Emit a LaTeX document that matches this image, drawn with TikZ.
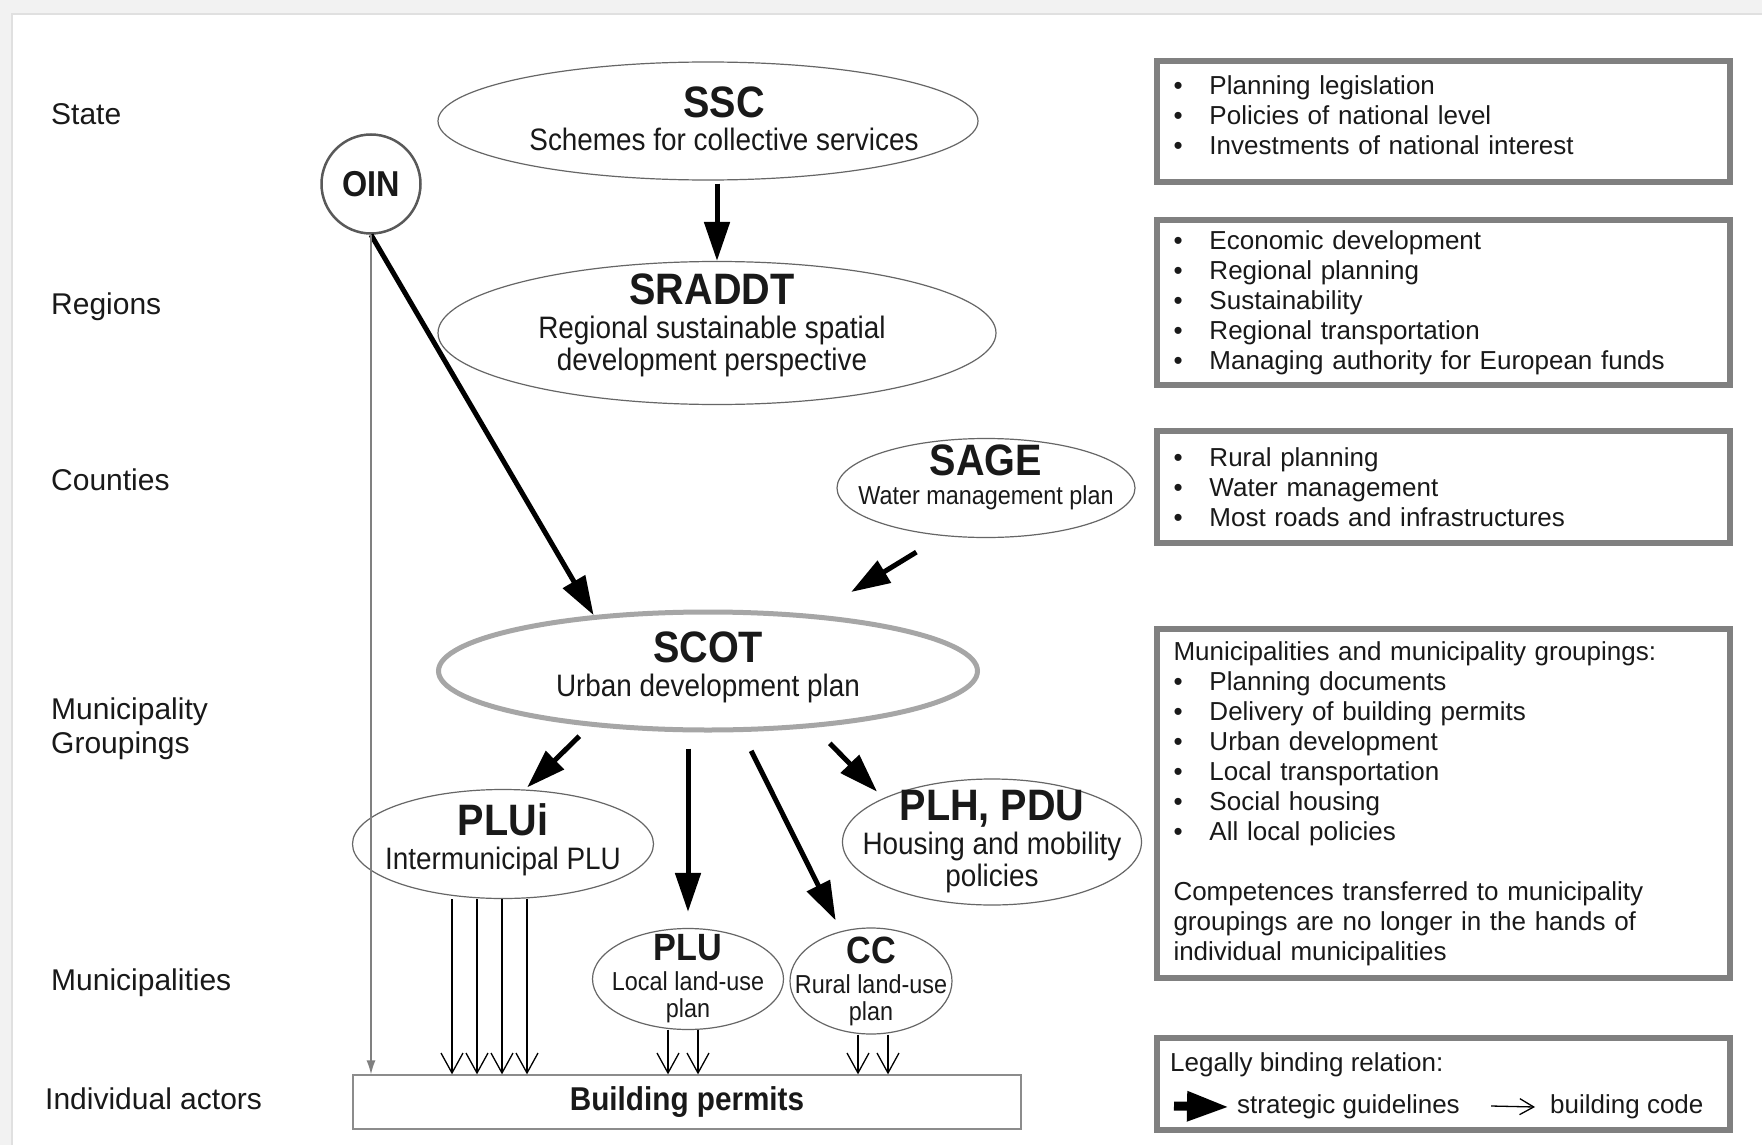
\documentclass[tikz,border=0pt]{standalone}
\usepackage{fontspec}
\setmainfont{Liberation Sans}
\newfontfamily\narrowsf[FakeStretch=0.9]{Liberation Sans}
\usetikzlibrary{shapes.geometric,arrows.meta}

\newcommand{\ptitle}[1]{{\fontsize{44}{44}\selectfont\bfseries #1}}
\newcommand{\stitle}[1]{{\fontsize{38}{38}\selectfont\bfseries #1}}
\newcommand{\bitem}{\makebox[36pt][l]{\textbullet}}

\begin{document}
\begin{tikzpicture}
[x=1pt,y=-1pt,every node/.style={text=black!90},
plan/.style={ellipse,draw=black!60,line width=1.2pt,inner sep=-200pt,align=center,font=\narrowsf\fontsize{31}{32}\selectfont},
smallplan/.style={plan,font=\narrowsf\fontsize{26}{27}\selectfont},
level/.style={anchor=west,inner sep=0pt,align=left,font=\fontsize{30}{34}\selectfont},
infobox/.style={draw=gray,line width=6pt,text width=540pt,inner xsep=16.5pt,inner ysep=0pt,align=left,font=\fontsize{26}{30}\selectfont},
boxtxt/.style={anchor=west,inner sep=0pt,font=\fontsize{26}{30}\selectfont},
strat/.style={line width=5pt,-{Triangle[length=39pt,width=25pt]}},
legstrat/.style={line width=9pt,-{Triangle[length=42pt,width=28pt]}},
code/.style={line width=1.3pt,-{Straight Barb[length=20pt,width=22pt]}},
legcode/.style={line width=1.3pt,-{Straight Barb[length=14pt,width=16pt]}},
oinline/.style={draw=gray,line width=1.3pt,-{Latex[length=14pt,width=9pt]}}]
\useasboundingbox (0,0) rectangle (1762,1145);
\fill[black!5] (0,0) rectangle (1762,1145);
\fill[white] (12,14) rectangle (1762,1145);
\draw[black!12,line width=1.5pt] (12,1145) -- (12,14) -- (1762,14);

% levels
\node[level] (lstate) at (51,114) {State};
\node[level] (lregion) at (51,306.5) {Regions};
\node[level] (lcounty) at (51,480) {Counties};
\node[level] (lgroup) at (51,728.5) {Municipality\\Groupings};
\node[level] (lmunic) at (51,982.5) {Municipalities};
\node[level] (lactor) at (45,1099) {Individual actors};

% plans
\node[circle,draw=black!65,line width=2.5pt,minimum size=99pt,inner sep=0pt,font=\narrowsf\fontsize{36}{36}\selectfont\bfseries] (oin) at (371,184) {OIN};
\node[plan,minimum width=540pt,minimum height=118pt] (ssc) at (708,121) {\hspace*{32pt}\ptitle{SSC}\\[1pt]\hspace*{32pt}Schemes for collective services\\[-27.5pt]\mbox{}};
\node[plan,minimum width=558pt,minimum height=143pt] (sraddt) at (717,333) {\hspace*{-10pt}\ptitle{SRADDT}\\[2pt]\hspace*{-10pt}Regional sustainable spatial\\\hspace*{-10pt}development perspective\\[-11pt]\mbox{}};
\node[smallplan,minimum width=298pt,minimum height=99pt] (sage) at (986,488) {\ptitle{SAGE}\\[2pt]Water management plan\\\mbox{}};
\node[plan,draw=gray!70,line width=5pt,minimum width=539pt,minimum height=118pt] (scot) at (708,671) {\ptitle{SCOT}\\[2pt]Urban development plan\\[-18pt]\mbox{}};
\node[plan,minimum width=301pt,minimum height=109pt] (plui) at (503,844) {\ptitle{PLUi}\\[2pt]Intermunicipal PLU\\[-18pt]\mbox{}};
\node[plan,minimum width=299pt,minimum height=126pt] (plh) at (992,842) {\ptitle{PLH, PDU}\\[2pt]Housing and mobility\\policies};
\node[smallplan,minimum width=191pt,minimum height=101pt] (plu) at (688,979) {\stitle{PLU}\\[3pt]Local land-use\\plan};
\node[smallplan,minimum width=162pt,minimum height=106pt] (cc) at (871,981) {\stitle{CC}\\[3pt]Rural land-use\\plan};
\node[draw=black!45,line width=1.3pt,minimum width=668pt,minimum height=54pt,inner sep=0pt,font=\narrowsf\fontsize{33}{33}\selectfont\bfseries] (permits) at (687,1102) {Building permits};

% competences
\node[infobox,minimum height=121pt] (bxstate) at (1443.5,121.5) {\bitem Planning legislation\\\bitem Policies of national level\\\bitem Investments of national interest\\[-18pt]\mbox{}};
\node[infobox,minimum height=165pt] (bxregion) at (1443.5,302.5) {\bitem Economic development\\\bitem Regional planning\\\bitem Sustainability\\\bitem Regional transportation\\\bitem Managing authority for European funds};
\node[infobox,minimum height=112pt] (bxcounty) at (1443.5,487) {\bitem Rural planning\\\bitem Water management\\\bitem Most roads and infrastructures};
\node[infobox,minimum height=349pt] (bxmunic) at (1443.5,803.5) {Municipalities and municipality groupings:\\\bitem Planning documents\\\bitem Delivery of building permits\\\bitem Urban development\\\bitem Local transportation\\\bitem Social housing\\\bitem All local policies\\[30pt]Competences transferred to municipality\\groupings are no longer in the hands of\\individual municipalities};
\node[infobox,minimum height=92pt] (legend) at (1443.5,1084) {};
\node[boxtxt] (lgtitle) at (1170,1065) {Legally binding relation:};
\node[boxtxt] (lgstrat) at (1237,1107) {strategic guidelines};
\node[boxtxt] (lgcode) at (1550,1107) {building code};
\coordinate (lgs) at (1174,1106);
\coordinate (lgc) at (1491,1106);

% relations
\draw[strat,shorten <=3pt] (ssc.south -| sraddt.north) -- (sraddt.north);
\draw[strat] (oin.south) -- (scot.154);
\draw[oinline] (oin.south) -- (oin.south |- permits.north);
\draw[strat,shorten <=16pt,shorten >=16pt] (scot.south -| plu.north) -- (plu.north);
\foreach \from/\to/\s/\e in {sage.228/scot.28/31/43,scot.205/plui.68/14/3,scot.-61/cc.121/21/12,scot.-28/plh.158/22/9}
\draw[strat,shorten <=\s pt,shorten >=\e pt] (\from) -- (\to);
\foreach \dx in {-51,-26,-1,24}
\draw[code] ([xshift=\dx pt]plui.south) -- ([xshift=\dx pt]plui.south |- permits.north);
\foreach \dx in {-20,10}
\draw[code] ([xshift=\dx pt]plu.south) -- ([xshift=\dx pt]plu.south |- permits.north);
\foreach \dx in {-13,17}
\draw[code] ([xshift=\dx pt]cc.south) -- ([xshift=\dx pt]cc.south |- permits.north);
\draw[legstrat] (lgs) -- ([xshift=-8pt]lgstrat.west);
\draw[legcode] (lgc) -- ([xshift=-15pt]lgcode.west);
\end{tikzpicture}
\end{document}
